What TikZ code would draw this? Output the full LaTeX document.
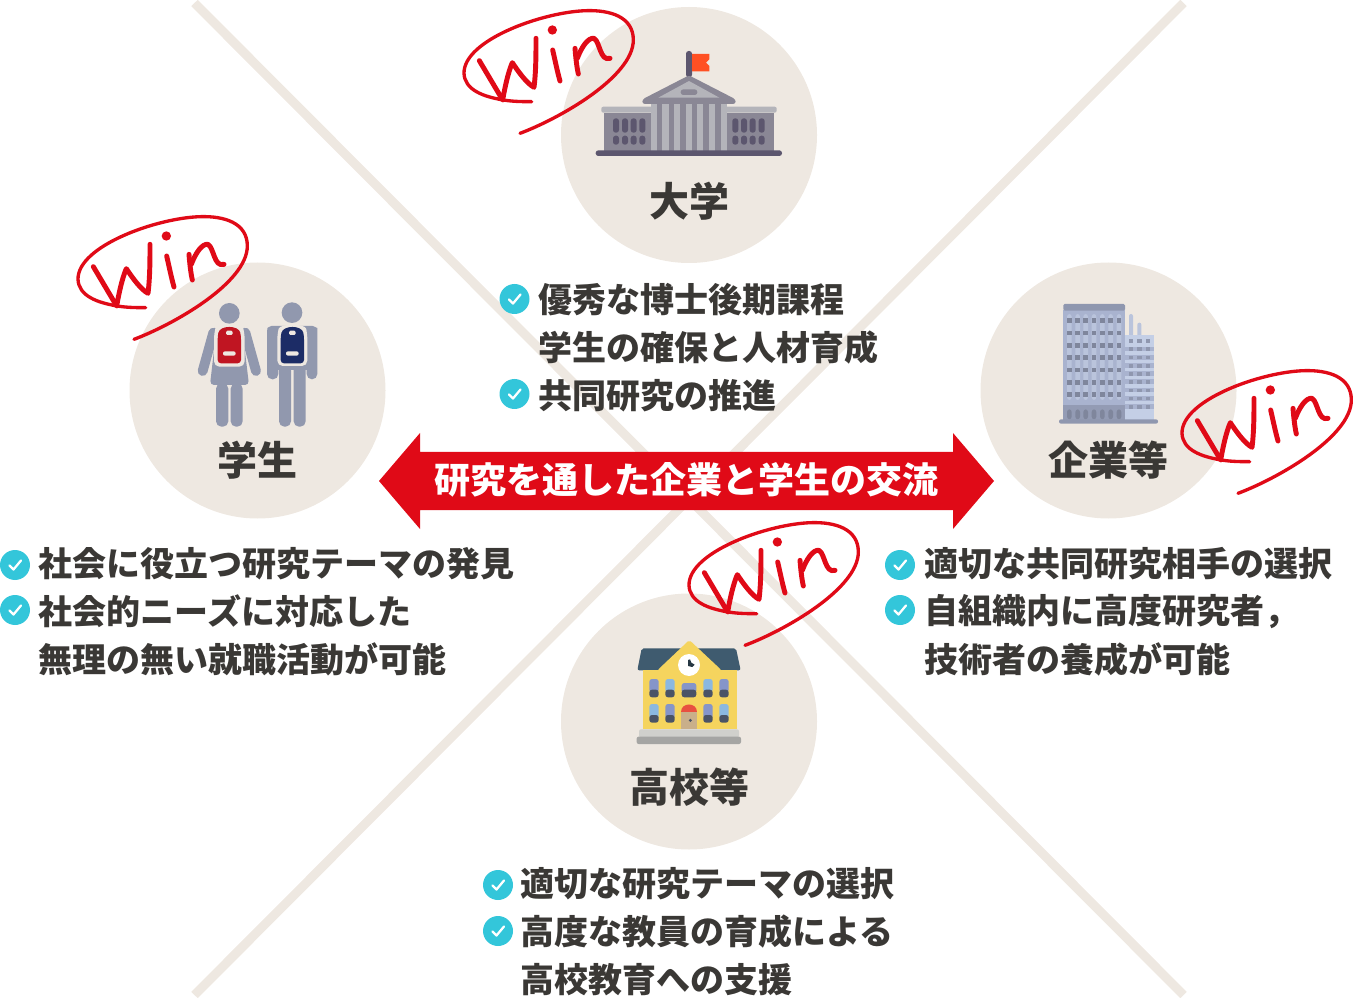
\documentclass[tikz,border=0pt]{standalone}
\usepackage{fontspec}
\setmainfont{Noto Sans CJK JP}
\definecolor{beige}{HTML}{EEE8E1}
\definecolor{ink}{HTML}{3A3835}
\definecolor{winred}{HTML}{E00A17}
\definecolor{teal}{HTML}{33C6DA}
\definecolor{gA}{HTML}{8A8795}
\definecolor{gB}{HTML}{B4B4BA}
\definecolor{gC}{HTML}{5C566E}
\definecolor{flagc}{HTML}{FF5023}
\definecolor{pers}{HTML}{9198AE}
\definecolor{bagR}{HTML}{C01522}
\definecolor{bagN}{HTML}{1C2C66}
\definecolor{bA}{HTML}{A9B3CF}
\definecolor{bB}{HTML}{8F97AF}
\definecolor{bC}{HTML}{BAC4DC}
\definecolor{bD}{HTML}{7F869C}
\definecolor{bE}{HTML}{C4CFE6}
\definecolor{roofc}{HTML}{3F5B6F}
\definecolor{yel}{HTML}{F5D45E}
\definecolor{winA}{HTML}{8BB8E0}
\definecolor{winB}{HTML}{8595C9}
\definecolor{winD}{HTML}{4A5366}
\definecolor{doorc}{HTML}{C9AF8A}
\definecolor{archc}{HTML}{E85040}
\definecolor{baseA}{HTML}{D0D0CC}
\definecolor{baseB}{HTML}{A5A5A3}
\tikzset{
  disc/.style={circle,fill=beige,minimum size=192pt,inner sep=0pt},
  crossline/.style={beige,line width=6.8pt},
  title/.style={font=\bfseries\fontsize{30pt}{30pt}\selectfont,text=ink,inner sep=0pt},
  item/.style={font=\bfseries\fontsize{25.5pt}{26pt}\selectfont,text=ink,inner sep=0pt,anchor=west},
  bantext/.style={font=\bfseries\fontsize{27pt}{27pt}\selectfont,text=white,inner sep=0pt},
  chkdot/.style={circle,fill=teal,minimum size=22.5pt,inner sep=0pt},
  zoomed/.style={x=0.25pt,y=-0.25pt},
  winpic/.pic={
    \begin{scope}[zoomed,winred,line cap=round,line join=round]
      \draw[line width=2.5pt] (180,400) .. controls (300,355) and (520,230) .. (520,120)
        .. controls (520,50) and (450,30) .. (380,32)
        .. controls (250,35) and (10,120) .. (12,220)
        .. controls (14,270) and (70,290) .. (130,300)
        .. controls (160,305) and (190,305) .. (215,305);
      \draw[line width=3.7pt] (58,182) -- (128,300) .. controls (135,260) and (145,215) .. (157,188)
        .. controls (175,215) and (200,250) .. (222,262)
        .. controls (228,215) and (228,160) .. (228,115);
      \draw[line width=3.7pt] (278,150) .. controls (285,180) and (292,215) .. (300,243);
      \fill (277,90) circle (14);
      \draw[line width=3.7pt] (345,145) .. controls (347,170) and (350,200) .. (355,222);
      \draw[line width=3.7pt] (352,175) .. controls (365,140) and (385,112) .. (402,115)
        .. controls (420,125) and (420,185) .. (450,175);
    \end{scope}
  }
}
\newcommand{\chkmark}[3]{%
  \node[chkdot] (#1) at (#2,#3) {};
  \draw[white,line width=1.7pt,line cap=round,line join=round]
    ([shift={(-5.5,0.5)}]#1.center) -- ([shift={(-1.5,4.5)}]#1.center) -- ([shift={(6,-4.5)}]#1.center);
}
\begin{document}
\begin{tikzpicture}[x=0.75pt,y=-0.75pt]
\useasboundingbox (0,0) rectangle (1353,998);
% cross lines
\coordinate (la) at (194.5,3);
\coordinate (lb) at (1183.5,995);
\coordinate (lc) at (1183.5,3);
\coordinate (ld) at (194.5,995);
\draw[crossline] (la) -- (lb);
\draw[crossline] (lc) -- (ld);
% discs
\node[disc] (uni) at (689,135) {};
\node[disc] (stu) at (257.5,390.5) {};
\node[disc] (com) at (1108.5,390.5) {};
\node[disc] (sch) at (689,721.5) {};
% banner
\fill[winred] (379,481) -- (420,433) -- (420,452) -- (953,452) -- (953,433) -- (994,481)
  -- (953,529) -- (953,510) -- (420,510) -- (420,529) -- cycle;
\node[bantext] (ban) at (686.5,480) {研究を通した企業と学生の交流};
% titles
\node[title] (tuni) at (689,201.5) {大学};
\node[title] (tstu) at (257,460) {学生};
\node[title] (tcom) at (1108,460) {企業等};
\node[title] (tsch) at (689,787) {高校等};
% lists
\chkmark{c1}{514.5}{299}
\node[item] (u1) at (538,299.5) {優秀な博士後期課程};
\node[item] (u2) at (538,347.5) {学生の確保と人材育成};
\chkmark{c2}{514.5}{394}
\node[item] (u3) at (538,395.5) {共同研究の推進};
\chkmark{c3}{15}{565}
\node[item] (s1) at (38.5,564) {社会に役立つ研究テーマの発見};
\chkmark{c4}{15}{610}
\node[item] (s2) at (38.5,611.5) {社会的ニーズに対応した};
\node[item] (s3) at (38.5,659) {無理の無い就職活動が可能};
\chkmark{c5}{900}{565}
\node[item] (k1) at (924.5,564) {適切な共同研究相手の選択};
\chkmark{c6}{900}{610}
\node[item] (k2) at (924.5,611.5) {自組織内に高度研究者，};
\node[item] (k3) at (924.5,659) {技術者の養成が可能};
\chkmark{c7}{498}{885}
\node[item] (h1) at (520.5,884) {適切な研究テーマの選択};
\chkmark{c8}{498}{931}
\node[item] (h2) at (520.5,932) {高度な教員の育成による};
\node[item] (h3) at (520.5,980) {高校教育への支援};
% university icon
\begin{scope}[shift={(460,0)},zoomed]
  \fill[gC,rounded corners=2pt] (678,153) rectangle (696,232);
  \fill[flagc] (696,162) -- (748,162) -- (748,178) -- (738,188) -- (748,198) -- (748,214) -- (696,214) -- cycle;
  \fill[gB,rounded corners=1.5pt] (424,320) rectangle (950,338);
  \fill[gA] (433,338) rectangle (573,452);
  \fill[gA] (800,338) rectangle (941,452);
  \fill[gB] (573,310) rectangle (800,452);
  \foreach \c in {590,626,660,695,730,765} \fill[gA] (\c,312) rectangle ++(17,140);
  \fill[gA,rounded corners=2pt] (547,312) -- (547,298) -- (687,226) -- (827,298) -- (827,312) -- cycle;
  \fill[gB] (595,293) -- (687,243) -- (778,293) -- cycle;
  \fill[gA,rounded corners=2pt] (662,268) rectangle (712,285);
  \foreach \c in {459,486,512,538,817,843,869,896} {
    \fill[gC,rounded corners=2pt] (\c,355) rectangle ++(18,43);
    \fill[gC,rounded corners=2pt] (\c,407) rectangle ++(18,27);
  }
  \fill[gC,rounded corners=2pt] (407,451) rectangle (966,468);
\end{scope}
% students icon
\begin{scope}[shift={(70,210)},zoomed]
  \fill[pers] (478,310) circle (31);
  \fill[pers] (666,308) circle (31);
  % girl
  \fill[pers,rounded corners=3pt] (440,350) -- (516,350) -- (537,525) -- (420,525) -- cycle;
  \draw[pers,line width=7.4pt,line cap=round] (430,368) -- (398,483);
  \draw[pers,line width=7.4pt,line cap=round] (526,368) -- (558,483);
  \fill[pers,rounded corners=4pt] (438,520) -- (475,520) -- (475,650) -- (438,650) -- cycle;
  \fill[pers,rounded corners=4pt] (482,520) -- (518,520) -- (518,650) -- (482,650) -- cycle;
  \fill[beige,rounded corners=4pt] (432,372) .. controls (440,340) and (516,340) .. (524,372) -- (524,470) -- (432,470) -- cycle;
  \fill[bagR,rounded corners=2.5pt] (443,378) .. controls (450,345) and (506,345) .. (513,378) -- (513,460) -- (443,460) -- cycle;
  \fill[beige,rounded corners=1pt] (468,362) rectangle (488,375);
  \fill[beige,rounded corners=1.5pt] (459,424) rectangle (497,437);
  % boy
  \fill[pers,rounded corners=4pt] (591,370) .. controls (592,355) and (600,348) .. (620,348) -- (712,348) .. controls (732,348) and (742,355) .. (742,370) -- (742,508) -- (710,508) -- (710,400) -- (625,400) -- (625,508) -- (591,508) -- cycle;
  \fill[pers] (625,350) rectangle (710,480);
  \fill[pers,rounded corners=4pt] (627,465) -- (663,465) -- (663,650) -- (627,650) -- cycle;
  \fill[pers,rounded corners=4pt] (671,465) -- (707,465) -- (707,650) -- (671,650) -- cycle;
  \fill[beige,rounded corners=4pt] (622,372) .. controls (630,340) and (705,340) .. (712,372) -- (712,468) -- (622,468) -- cycle;
  \fill[bagN,rounded corners=2.5pt] (632,378) .. controls (640,345) and (695,345) .. (702,378) -- (702,460) -- (632,460) -- cycle;
  \fill[beige,rounded corners=1pt] (657,362) rectangle (677,375);
  \fill[beige,rounded corners=1.5pt] (648,424) rectangle (686,437);
\end{scope}
% company icon
\begin{scope}[shift={(1030,290)},zoomed]
  \fill[bC,rounded corners=1.5pt] (297,72) rectangle (309,140);
  \fill[bC,rounded corners=1.5pt] (322,98) rectangle (334,140);
  \fill[bA] (100,60) rectangle (285,390);
  \fill[bB,rounded corners=1pt] (100,42) rectangle (285,62);
  \foreach \c in {111,136,160,185,210,235,260} {
    \fill[bC,rounded corners=2pt] (\c,72) rectangle ++(14,258);
    \foreach \r in {85,122,159,196,233,270,307} \fill[bD] (\c,\r) rectangle ++(14,14);
  }
  \fill[bB!85!bA] (100,345) rectangle (285,390);
  \foreach \c in {111,136,160,185,210,235,260} \fill[bD,rounded corners=2pt] (\c,358) rectangle ++(14,30);
  \fill[bE] (285,135) rectangle (372,390);
  \foreach \r in {170,195,220,244,268,293,318,342} \fill[bA] (285,\r) rectangle (372,\r+14);
  \foreach \c in {297,322,347} \foreach \r in {148,172,197,222,246,271,296,320,345} \fill[bB] (\c,\r) rectangle ++(13,11);
  \fill[bB,rounded corners=1.5pt] (87,388) rectangle (384,401);
\end{scope}
% school icon
\begin{scope}[shift={(610,520)},zoomed]
  \fill[roofc,rounded corners=1.5pt] (95,385) -- (378,385) -- (392,451) -- (82,451) -- cycle;
  \fill[yel] (98,450) rectangle (380,628);
  \fill[yel,rounded corners=1.5pt] (238,360) -- (335,451) -- (142,451) -- cycle;
  \fill[white] (237,435) circle (33);
  \fill[roofc!60!black] (234,420) -- (240,418) -- (244,428) -- (254,434) -- (247,441) -- (234,438) -- cycle;
  \foreach \x/\c in {118/winB,166/winA,280/winA,328/winB} {
    \fill[\c,rounded corners=2pt] (\x,477) rectangle ++(28,40);
    \fill[winD,rounded corners=2pt] (\x,509) rectangle ++(28,23);
  }
  \fill[winB,rounded corners=2pt] (215,489) rectangle (259,520);
  \fill[winD,rounded corners=2pt] (215,509) rectangle (259,532);
  \foreach \x/\c in {118/winA,166/winB,280/winB,328/winA} {
    \fill[\c,rounded corners=2pt] (\x,552) rectangle ++(28,44);
    \fill[winD,rounded corners=2pt] (\x,585) rectangle ++(28,23);
  }
  \fill[doorc] (214,575) rectangle (260,628);
  \fill[archc] (214,575) .. controls (214,545) and (260,545) .. (260,575) -- cycle;
  \fill[winD] (241,601) circle (5);
  \fill[baseA,rounded corners=1.5pt] (87,628) rectangle (387,652);
  \fill[baseB,rounded corners=1.5pt] (80,650) rectangle (393,672);
\end{scope}
% Win marks
\pic at (460,0) {winpic};
\pic at (74,206) {winpic};
\pic at (1178,360) {winpic};
\pic at (685,512) {winpic};
\end{tikzpicture}
\end{document}
